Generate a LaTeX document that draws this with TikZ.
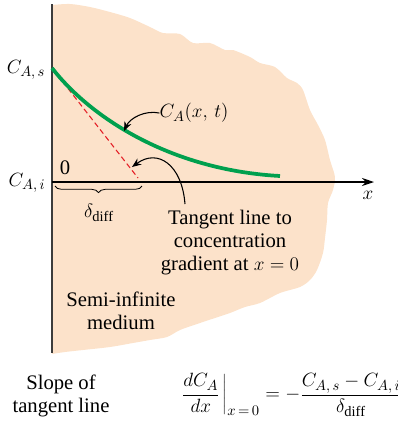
\documentclass[tikz,border=0pt]{standalone}
\usepackage{fontspec}
\setmainfont{LiberationSerif}[Extension=.ttf, UprightFont=*-Regular, BoldFont=*-Bold, ItalicFont=*-Italic, BoldItalicFont=*-BoldItalic]
\usetikzlibrary{arrows.meta,decorations.pathreplacing}
\definecolor{peach}{RGB}{252,226,202}
\definecolor{curvegreen}{RGB}{0,160,78}
\definecolor{tanred}{RGB}{228,30,38}
\definecolor{axisgray}{RGB}{60,60,60}
\tikzset{
  lbl/.style={font=\rmfamily\fontsize{15.5}{17.25}\selectfont, inner sep=0pt, align=center},
  pointer/.style={black, line width=0.8pt, -{Stealth[length=7pt,width=5.5pt]}},
}
\begin{document}
\begin{tikzpicture}[x=0.75pt,y=-0.75pt]
\useasboundingbox (0,0) rectangle (398,430);
% medium
\fill[peach] (52,354) -- (52,5) -- plot[smooth, tension=0.5] coordinates {
 (52,5) (70,4) (90,7) (110,12) (130,18) (150,27) (163,33) (180,34) (193,43) (210,43)
 (225,50) (233,50) (250,57) (260,63) (275,67) (287,78) (297,83) (303,90) (310,110)
 (318,125) (325,140) (330,160) (335,177) (333,190) (328,203) (327,220) (325,238) (323,253)
 (317,270) (310,280) (300,287) (280,293) (260,303) (245,307) (230,313) (215,318) (200,323)
 (180,330) (167,337) (150,340) (133,343) (110,347) (83,350) (65,352) (52,354)} -- cycle;
% axes
\coordinate (o) at (52,182);
\coordinate (xend) at (374,182);
\coordinate (ytop) at (52,4);
\coordinate (ybot) at (52,353);
\draw[axisgray, line width=1.4pt] (ytop) -- (ybot);
\draw[black, line width=0.9pt, -{Stealth[length=9pt,width=6pt]}] (o) -- (xend);
% tangent and curve
\coordinate (s) at (52,68);
\coordinate (tEnd) at (138,178);
\draw[tanred, line width=0.8pt, dash pattern=on 4pt off 2.5pt] (s) -- (tEnd);
\draw[curvegreen, line width=2.8pt] (s) .. controls (90,117) and (170,170) .. (280,176);
% labels
\node[lbl] (cas) at (26,70) {$C_{A,\,s}$};
\node[lbl] (cai) at (27,183) {$C_{A,\,i}$};
\node[lbl] (zero) at (65,168) {0};
\node[lbl] (xl) at (368,195) {$x$};
\draw[black, line width=0.6pt, decorate, decoration={brace, mirror, amplitude=5pt}] (55,186) -- (142,186);
\node[lbl] (delta) at (99,213) {$\delta_{\mathrm{diff}}$};
\node[lbl] (cax) at (194,113) {$C_A(x,\,t)$};
\coordinate (cTip) at (124,131);
\draw[pointer] (cax.west) .. controls (145,110) and (130,118) .. (cTip);
\node[lbl] (tang) at (230,243) {Tangent line to\\concentration\\gradient at $x = 0$};
\coordinate (tanTail) at (185,204);
\coordinate (tanTip) at (132,167);
\draw[pointer] (tanTail) .. controls (182,165) and (158,148) .. (tanTip);
\node[lbl] (semi) at (121,311) {Semi-infinite\\medium};
\node[lbl] (slope) at (61,396) {Slope of\\tangent line};
\node[lbl] (eq) at (291,395) {$\displaystyle \left.\frac{dC_A}{dx}\,\right|_{x\,=\,0} = -\frac{C_{A,\,s}-C_{A,\,i}}{\delta_{\mathrm{diff}}}$};
\end{tikzpicture}
\end{document}
